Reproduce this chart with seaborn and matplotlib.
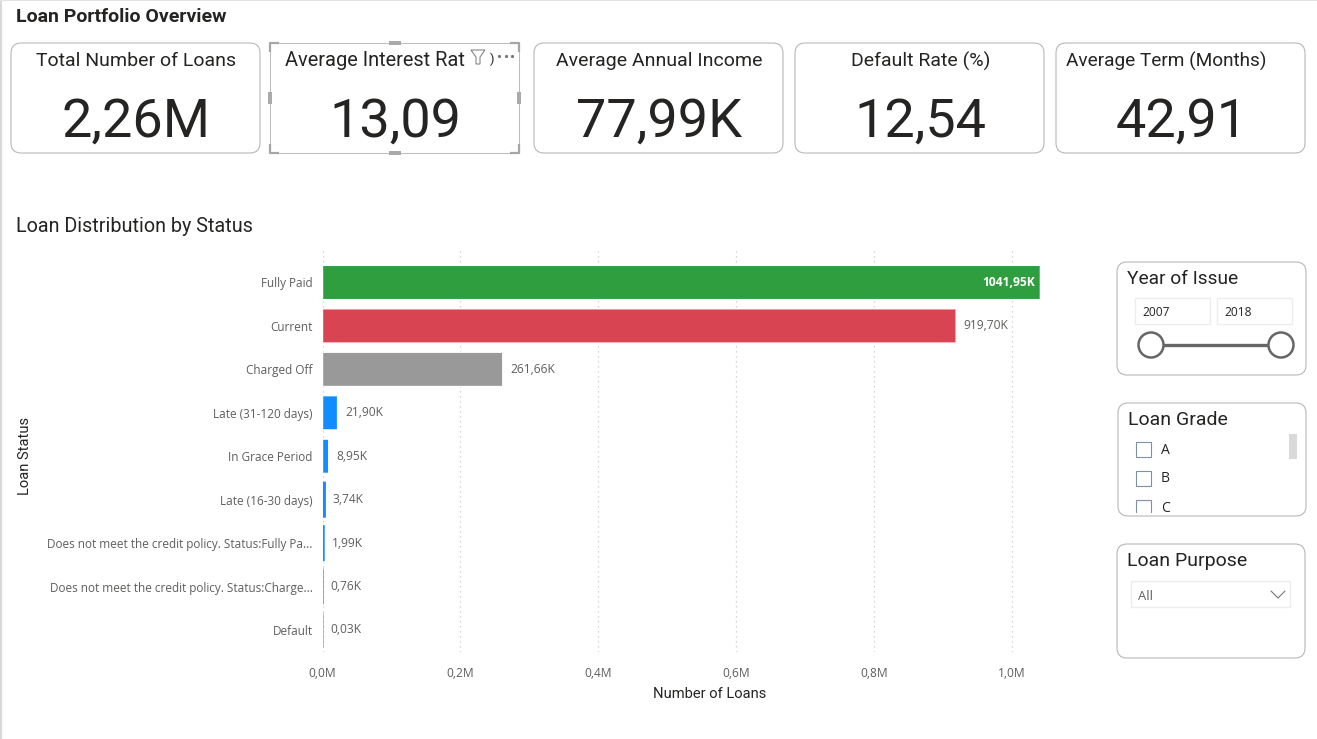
import matplotlib
matplotlib.use('Agg')
import matplotlib.pyplot as plt
import pandas as pd
import seaborn as sns
from matplotlib.patches import FancyBboxPatch, Rectangle, Circle, Polygon

# Values
statuses = ['Fully Paid', 'Current', 'Charged Off', 'Late (31-120 days)', 'In Grace Period',
            'Late (16-30 days)', 'Does not meet the credit policy. Status:Fully Pa...',
            'Does not meet the credit policy. Status:Charge...', 'Default']
loans_k = [1041.95, 919.70, 261.66, 21.90, 8.95, 3.74, 1.99, 0.76, 0.03]
bar_colors = ['#2F9E3F', '#D94452', '#999999', '#118DFF', '#118DFF', '#118DFF', '#118DFF', '#118DFF', '#118DFF']
x_ticks = [0, 200, 400, 600, 800, 1000]
x_labels = ['0,0M', '0,2M', '0,4M', '0,6M', '0,8M', '1,0M']

card_titles = ['Total Number of Loans', 'Average Interest Rat', 'Average Annual Income',
               'Default Rate (%)', 'Average Term (Months)']
card_values = ['2,26M', '13,09', '77,99K', '12,54', '42,91']
year_range = ['2007', '2018']
grades = ['A', 'B', 'C']

W, H = 1317, 739
HEAD = 'Roboto'
BODY = 'Open Sans'
DARK = '#252423'
GREY = '#605E5C'
BORDER = '#B3B3B3'


def px(size):
    return size * 0.72


sns.set_theme(style='white')
plt.rcParams['font.family'] = [BODY, 'DejaVu Sans']

fig = plt.figure(figsize=(W / 100, H / 100), dpi=100, facecolor='white')

# overlay in pixel coordinates for the cards and slicers
ui = fig.add_axes([0, 0, 1, 1])
ui.set_xlim(0, W)
ui.set_ylim(H, 0)
ui.axis('off')


def card(x0, y0, x1, y1, ec=BORDER, round_px=10):
    ui.add_patch(FancyBboxPatch((x0 + round_px, y0 + round_px), x1 - x0 - 2 * round_px, y1 - y0 - 2 * round_px,
                                boxstyle=f'round,pad={round_px},rounding_size={round_px}',
                                fc='white', ec=ec, lw=0.75))


ui.plot([0.5, 0.5], [0, H], color='#D9D9D9', lw=1.5)
ui.plot([0, W], [0, 0], color='#E3E3E3', lw=1.5)
ui.text(16, 17, 'Loan Portfolio Overview', family=HEAD, weight='bold', fontsize=px(19.5), color=DARK, va='center')
ui.text(16, 226, 'Loan Distribution by Status', family=HEAD, fontsize=px(19.8), color=DARK, va='center')

# KPI cards, the clipped titles sit left aligned
card_x = [(11, 260), (270, 519), (534, 783), (795, 1044), (1056, 1305)]
for i, ((x0, x1), title, value) in enumerate(zip(card_x, card_titles, card_values)):
    if i == 1:
        ui.add_patch(Rectangle((x0, 43), x1 - x0, 110, fc='white', ec='#BDBDBD', lw=0.75))
        ui.text(285, 61, title, family=HEAD, fontsize=px(20), color=DARK, va='center')
    elif i == 4:
        card(x0, 43, x1, 153)
        ui.text(1066, 61, title, family=HEAD, fontsize=px(19), color=DARK, va='center')
    else:
        card(x0, 43, x1, 153)
        ui.text((x0 + x1) / 2 + 1, 61, title, family=HEAD, fontsize=px(19.5), color=DARK, ha='center', va='center')
    ui.text((x0 + x1) / 2 + 1, 136.5, value, family=HEAD, fontsize=px(54), color=DARK, ha='center', va='baseline')

# selection handles on the focused card
for hx in (270, 519):
    for hy in (43, 153):
        sx = 1 if hx == 270 else -1
        sy = 1 if hy == 43 else -1
        ui.plot([hx + sx * 9, hx, hx], [hy, hy, hy + sy * 9], color='#A6A6A6', lw=1.6, solid_capstyle='butt')
    ui.add_patch(Rectangle((hx - 2, 92), 4, 12, fc='#AAAAAA', ec='none'))
for hy in (43, 153):
    ui.add_patch(Rectangle((389, hy - 2), 12, 4, fc='#AAAAAA', ec='none'))
ui.add_patch(Polygon([(471, 50), (485, 50), (480, 57), (480, 64), (476, 64), (476, 57)], closed=True,
                     fc='white', ec='#777777', lw=0.7))
ui.text(490, 59, ')', family=HEAD, fontsize=px(13), color=DARK, va='center')
ui.plot([499, 505.5, 512], [56, 56, 56], ls='none', marker='o', ms=1.3, color='#777777')

# Year of Issue slicer
card(1117, 262, 1306, 375)
ui.text(1127, 279, 'Year of Issue', family=HEAD, fontsize=px(19.2), color=DARK, va='center')
for bx, year in zip((1135, 1217), year_range):
    ui.add_patch(Rectangle((bx, 298), 75, 26, fc='white', ec='#EDEDED', lw=1))
    ui.text(bx + 7, 312, year, fontsize=px(12), color=DARK, va='center')
ui.plot([1151, 1281], [345, 345], color='#666666', lw=2.4, zorder=3)
for cx in (1151, 1281):
    ui.add_patch(Circle((cx, 345), 12.5, fc='white', ec='#666666', lw=1.8, zorder=4))

# Loan Grade slicer
card(1118, 403, 1306, 516)
ui.text(1128, 420, 'Loan Grade', family=HEAD, fontsize=px(19.5), color=DARK, va='center')
clip = Rectangle((1118, 403), 188, 110, transform=ui.transData)
for gy, grade in zip((450, 479, 508), grades):
    box = Rectangle((1136, gy - 8), 15, 15, fc='white', ec='#7F8FA6', lw=0.8)
    ui.add_patch(box)
    box.set_clip_path(clip)
    label = ui.text(1161, gy, grade, fontsize=px(14), color=DARK, va='center')
    label.set_clip_path(clip)
ui.add_patch(Rectangle((1289, 434), 8, 25, fc='#D9D9D9', ec='none'))

# Loan Purpose slicer
card(1117, 544, 1305, 658)
ui.text(1127, 561, 'Loan Purpose', family=HEAD, fontsize=px(19.5), color=DARK, va='center')
ui.add_patch(Rectangle((1131, 581), 159, 26, fc='white', ec='#EDEDED', lw=1))
ui.text(1138, 596, 'All', fontsize=px(13), color=GREY, va='center')
ui.plot([1271, 1278, 1285], [591, 598, 591], color='#777777', lw=0.8)

# bar chart
ax_left, ax_right, ax_top, ax_bottom = 322.5, 1050, 248, 651.7
ax = fig.add_axes([ax_left / W, 1 - ax_bottom / H, (ax_right - ax_left) / W, (ax_bottom - ax_top) / H])
ax.patch.set_alpha(0)

df = pd.DataFrame({'status': statuses, 'loans': loans_k})
sns.barplot(data=df, x='loans', y='status', hue='status', palette=bar_colors, legend=False,
            width=0.79, saturation=1, orient='h', ax=ax, zorder=3)
for patch, color, value in zip(ax.patches, bar_colors, loans_k):
    patch.set_snap(False)
    # thin bars keep a visible sliver, as in the original
    if value < 5:
        patch.set_edgecolor(color)
        patch.set_linewidth(1.2)
    if value < 1:
        patch.set_alpha(0.6)

ax.set_xlim(0, 727.5 / 689 * 1000)
ax.set_ylim(8.5, -0.794)
ax.set_xticks(x_ticks, x_labels)
ax.set_yticks(range(len(statuses)), statuses)
ax.tick_params(axis='both', length=0, labelsize=px(12), labelcolor=GREY)
ax.tick_params(axis='y', labelsize=px(11.7), pad=7)
ax.tick_params(axis='x', pad=11)
ax.grid(axis='x', ls=(0, (1, 3)), color='#C8C8C8', lw=0.9, zorder=0)
ax.grid(axis='y', visible=False)
sns.despine(ax=ax, left=True, bottom=True)

ax.set_xlabel('Number of Loans', family=HEAD, fontsize=px(14.8), color=DARK, labelpad=5,
              x=(710 - ax_left) / (ax_right - ax_left))
ax.set_ylabel('')
ui.text(25, 456, 'Loan Status', family=HEAD, fontsize=px(14.8), color=DARK, rotation=90, ha='center', va='center')

for i, value in enumerate(loans_k):
    label = f'{value:.2f}K'.replace('.', ',')
    if i == 0:
        ax.text(value - 8, i, label, color='white', weight='bold', fontsize=px(12), ha='right', va='center', zorder=5)
    else:
        ax.annotate(label, (value, i), xytext=(5.5, 0), textcoords='offset points', color=GREY,
                    fontsize=px(12), ha='left', va='center')

fig.savefig('out.png', dpi=100)
